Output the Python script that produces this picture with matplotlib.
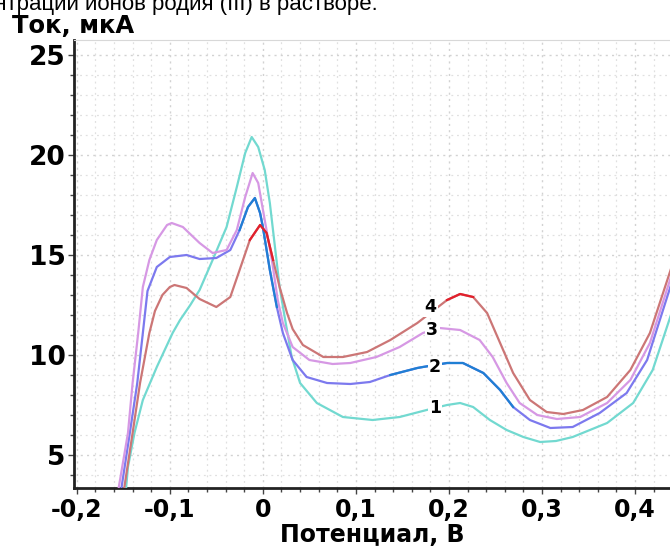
import numpy as np
import matplotlib
matplotlib.use("Agg")
import matplotlib.pyplot as plt
from matplotlib.ticker import MultipleLocator, FuncFormatter

# ---- data ----
x1 = [-0.147, -0.145, -0.138, -0.129, -0.114, -0.097, -0.089, -0.078, -0.068, -0.054, -0.039,
      -0.028, -0.019, -0.012, -0.005, 0.002, 0.0075, 0.013, 0.018, 0.024, 0.031, 0.04, 0.058,
      0.086, 0.118, 0.147, 0.176, 0.198, 0.212, 0.226, 0.244, 0.262, 0.28, 0.298, 0.315,
      0.333, 0.37, 0.398, 0.419, 0.44]
y1 = [3.35, 4.4, 6.1, 7.75, 9.4, 11.1, 11.75, 12.5, 13.25, 14.75, 16.4,
      18.4, 20.1, 20.9, 20.4, 19.25, 17.6, 15.4, 13.4, 11.75, 9.9, 8.6, 7.6,
      6.9, 6.75, 6.9, 7.25, 7.5, 7.6, 7.4, 6.75, 6.25, 5.9, 5.65, 5.7,
      5.9, 6.6, 7.6, 9.25, 12.2]

x2 = [-0.152, -0.143, -0.135, -0.129, -0.124, -0.114, -0.1, -0.082, -0.068, -0.05, -0.035,
      -0.025, -0.016, -0.0086, -0.003, 0.0, 0.0075, 0.015, 0.0215, 0.032, 0.047, 0.069, 0.094,
      0.115, 0.137, 0.166, 0.172, 0.198, 0.215, 0.237, 0.255, 0.269, 0.287, 0.309, 0.333,
      0.362, 0.391, 0.413, 0.44]
y2 = [3.35, 6.1, 8.6, 11.1, 13.2, 14.4, 14.9, 15.0, 14.8, 14.85, 15.25,
      16.25, 17.4, 17.85, 17.1, 16.4, 14.25, 12.4, 11.1, 9.75, 8.9, 8.6, 8.55,
      8.65, 9.0, 9.35, 9.4, 9.6, 9.6, 9.1, 8.25, 7.4, 6.75, 6.35, 6.4,
      7.1, 8.1, 9.75, 13.7]

x3 = [-0.155, -0.145, -0.14, -0.134, -0.129, -0.122, -0.114, -0.103, -0.098, -0.086, -0.068,
      -0.054, -0.039, -0.028, -0.019, -0.011, -0.005, 0.002, 0.0097, 0.016, 0.0215, 0.032,
      0.05, 0.075, 0.094, 0.122, 0.147, 0.172, 0.19, 0.212, 0.233, 0.247, 0.262, 0.276,
      0.295, 0.316, 0.341, 0.37, 0.395, 0.416, 0.44]
y3 = [3.35, 6.1, 8.6, 11.1, 13.4, 14.75, 15.75, 16.5, 16.6, 16.4, 15.6,
      15.1, 15.25, 16.25, 17.9, 19.1, 18.6, 16.75, 14.75, 12.75, 11.6, 10.4,
      9.75, 9.55, 9.6, 9.9, 10.4, 11.1, 11.35, 11.25, 10.75, 9.9, 8.6, 7.6,
      7.0, 6.8, 6.9, 7.6, 8.75, 10.6, 14.1]

x4 = [-0.149, -0.14, -0.132, -0.122, -0.116, -0.108, -0.1, -0.095, -0.082, -0.068, -0.05,
      -0.035, -0.025, -0.014, -0.003, 0.004, 0.011, 0.018, 0.026, 0.032, 0.043, 0.065, 0.086,
      0.112, 0.137, 0.166, 0.198, 0.212, 0.226, 0.241, 0.255, 0.269, 0.287, 0.305, 0.323,
      0.344, 0.37, 0.395, 0.416, 0.44]
y4 = [3.35, 6.1, 8.6, 11.1, 12.2, 13.0, 13.4, 13.5, 13.35, 12.8, 12.4,
      12.9, 14.25, 15.75, 16.5, 16.1, 14.75, 13.4, 12.1, 11.3, 10.5, 9.9, 9.9,
      10.15, 10.75, 11.6, 12.75, 13.05, 12.9, 12.1, 10.6, 9.1, 7.75, 7.15, 7.05,
      7.25, 7.9, 9.25, 11.1, 14.5]

curve_labels = ["1", "2", "3", "4"]
label_x = [0.185, 0.185, 0.182, 0.180]
label_y = [7.35, 9.4, 11.25, 12.4]

x_ticks = [-0.2, -0.1, 0.0, 0.1, 0.2, 0.3, 0.4]
y_ticks = [5, 10, 15, 20, 25]

# ---- figure ----
fig = plt.figure(figsize=(6.70, 5.48), dpi=100)
ax = fig.add_axes([74/670, 1-488/548, 1-74/670, (488-40)/548])
ax.set_xlim(-0.203, 0.4376)
ax.set_ylim(3.35, 25.75)

c1 = "#72d9d0"
c2 = "#7c79ee"
c2d = "#1f7fd3"
c3 = "#d698e4"
c4 = "#cc7676"
c4r = "#e2202c"
lw = 1.6

ax.plot(x1, y1, color=c1, lw=lw, zorder=3)
ax.plot(x2, y2, color=c2, lw=lw, zorder=3)
ax.plot(x3, y3, color=c3, lw=lw, zorder=3)
ax.plot(x4, y4, color=c4, lw=lw, zorder=3)

# darker overlay sections
a2x = np.array(x2); a2y = np.array(y2)
m = ((a2x >= -0.026) & (a2x <= 0.016)) | ((a2x >= 0.136) & (a2x <= 0.27))
ax.plot(a2x, np.where(m, a2y, np.nan), color=c2d, lw=lw, zorder=4)
a4x = np.array(x4); a4y = np.array(y4)
m4 = ((a4x >= -0.015) & (a4x <= 0.012)) | ((a4x >= 0.198) & (a4x <= 0.227))
ax.plot(a4x, np.where(m4, a4y, np.nan), color=c4r, lw=lw, zorder=4)

for t, lx, ly in zip(curve_labels, label_x, label_y):
    ax.text(lx, ly, t, fontsize=12.5, fontweight="bold", ha="center", va="center",
            zorder=5, bbox=dict(facecolor="white", edgecolor="none", pad=1.0))

# axes styling
ax.xaxis.set_minor_locator(MultipleLocator(0.02))
ax.yaxis.set_minor_locator(MultipleLocator(1))
ax.set_xticks(x_ticks)
ax.set_yticks(y_ticks)

def fmt(v, pos):
    s = f"{v:.1f}".replace(".", ",")
    if abs(v) < 1e-9:
        s = "0"
    return s
ax.xaxis.set_major_formatter(FuncFormatter(fmt))
ax.yaxis.set_major_formatter(FuncFormatter(lambda v, p: f"{int(round(v))}"))

for lab in ax.get_xticklabels():
    lab.set_fontweight("bold")
    lab.set_fontsize(17)
for lab in ax.get_yticklabels():
    lab.set_fontweight("bold")
    lab.set_fontsize(19)

ax.tick_params(which="both", direction="out", color="#444444", width=1)
ax.tick_params(which="major", length=4, pad=3)
ax.tick_params(axis="y", which="major", pad=2)
ax.tick_params(which="minor", length=3)

ax.grid(which="major", color="#d2d2d2", linestyle=(0, (1.5, 3)), lw=1.0)
ax.grid(which="minor", color="#e0e0e0", linestyle=(0, (1.5, 3)), lw=0.9)

ax.spines["right"].set_visible(False)
ax.spines["top"].set_color("#d8d8d8")
ax.spines["left"].set_linewidth(2)
ax.spines["bottom"].set_linewidth(2)
ax.spines["left"].set_color("#222222")
ax.spines["bottom"].set_color("#222222")

ax.set_xlabel("Потенциал, В", fontsize=17, fontweight="bold", labelpad=1)
fig.text(12/670, 1-26/548, "Ток, мкА", fontsize=17.5, fontweight="bold",
         ha="left", va="center")

# caption fragment at top edge (as in the reference)
fig.text(378/670, 1-10/548, "концентрации ионов родия (III) в растворе.",
         fontsize=16, family="Liberation Sans", ha="right", va="baseline")

fig.savefig("out.png", dpi=100)
